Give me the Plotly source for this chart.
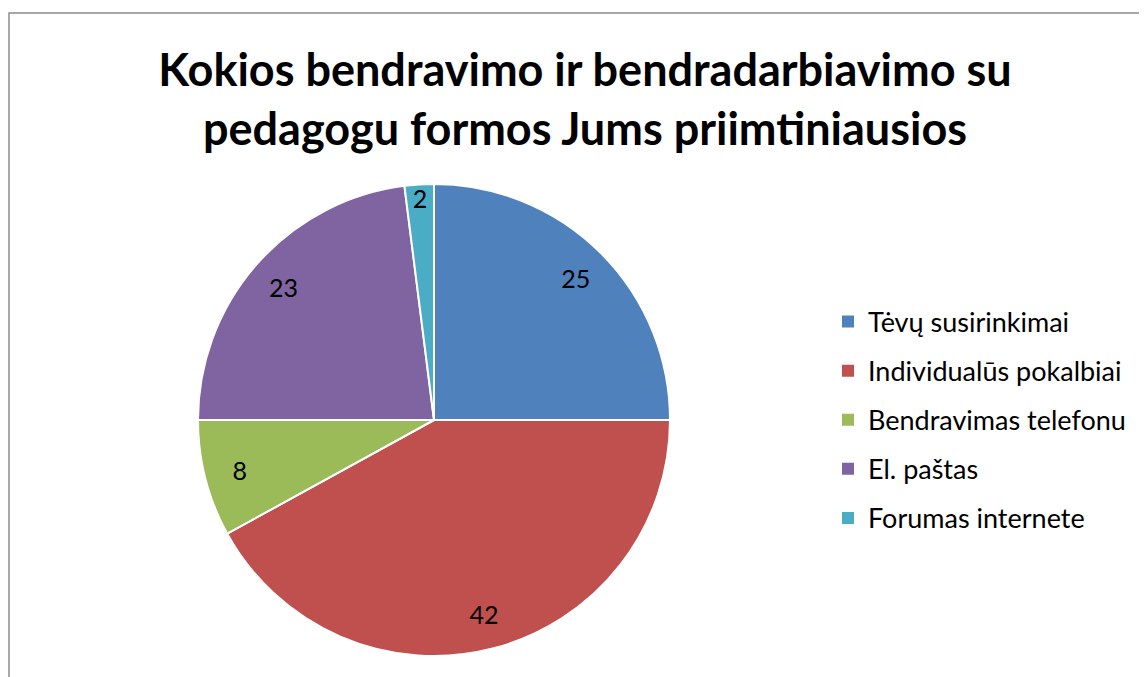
import plotly.graph_objects as go

labels = ["Tėvų susirinkimai", "Individualūs pokalbiai", "Bendravimas telefonu",
          "El. paštas", "Forumas internete"]
values = [25, 42, 8, 23, 2]
colors = ["#4F81BD", "#C0504D", "#9BBB59", "#8064A2", "#4BACC6"]

title = "Kokios bendravimo ir bendradarbiavimo su<br>pedagogu formos Jums priimtiniausios"

W, H = 1147, 677
dom = dict(x=[190 / W, 662 / W], y=[1 - 648 / H, 1 - 176 / H])

fig = go.Figure()

fig.add_trace(go.Pie(
    labels=labels, values=values, sort=False, direction="clockwise", rotation=0,
    marker=dict(colors=colors, line=dict(color="white", width=2)),
    textinfo="none", hoverinfo="label+value",
    domain=dom, showlegend=False,
))

# transparent ring on top, only to put the value labels further out
fig.add_trace(go.Pie(
    labels=labels, values=values, sort=False, direction="clockwise", rotation=0,
    hole=0.7,
    marker=dict(colors=["rgba(0,0,0,0)"] * len(values), line=dict(width=0)),
    textinfo="value", textposition="inside", insidetextorientation="horizontal",
    textfont=dict(family="Lato", size=25, color="black"),
    hoverinfo="skip", domain=dom, showlegend=False,
))

# legend entries (separate groups so the spacing can match)
for lab, col in zip(labels, colors):
    fig.add_trace(go.Scatter(
        x=[None], y=[None], mode="markers", name=lab, legendgroup=lab,
        marker=dict(symbol="square", size=12, color=col),
    ))

fig.update_layout(
    width=W, height=H,
    margin=dict(l=0, r=0, t=0, b=0),
    paper_bgcolor="white", plot_bgcolor="white",
    title=dict(text=title, x=577 / W, xanchor="center", y=1 - 78 / H, yanchor="middle",
               font=dict(family="Lato", size=45, color="black", weight="bold")),
    xaxis=dict(visible=False), yaxis=dict(visible=False),
    legend=dict(x=820 / W, xanchor="left", y=1 - 412 / H, yanchor="middle",
                font=dict(family="Lato", size=27, color="black"),
                tracegroupgap=11, itemwidth=30),
    uniformtext=dict(minsize=25, mode="show"),
    shapes=[dict(type="rect", xref="paper", yref="paper",
                 x0=1 / W, x1=1.05, y0=-0.05, y1=1 - 5 / H,
                 line=dict(color="#8c8c8c", width=1.5))],
)

fig.write_html("out.html")
